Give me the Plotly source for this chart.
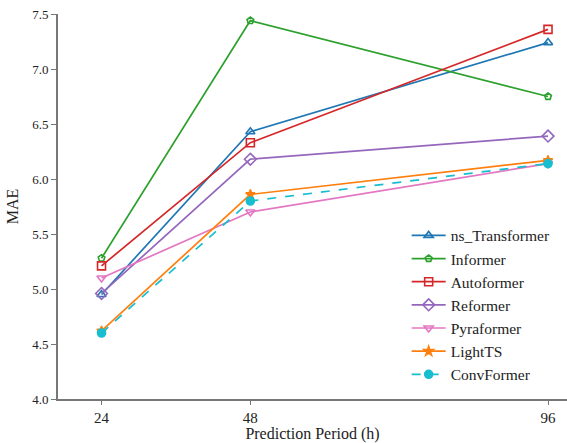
import plotly.graph_objects as go

periods = [24, 48, 96]
ns_transformer = [4.95, 6.43, 7.24]
informer = [5.28, 7.44, 6.75]
autoformer = [5.21, 6.33, 7.36]
reformer = [4.96, 6.18, 6.39]
pyraformer = [5.10, 5.70, 6.14]
lightts = [4.62, 5.86, 6.17]
convformer = [4.60, 5.80, 6.14]

series = [
    ("ns_Transformer", ns_transformer, "#1f77b4", "triangle-up-open", 8, "solid"),
    ("Informer", informer, "#2ca02c", "pentagon-open", 7, "solid"),
    ("Autoformer", autoformer, "#d62728", "square-open", 8, "solid"),
    ("Reformer", reformer, "#9467bd", "diamond-open", 9, "solid"),
    ("Pyraformer", pyraformer, "#e377c2", "triangle-down-open", 8, "solid"),
    ("LightTS", lightts, "#ff7f0e", "star", 7, "solid"),
    ("ConvFormer", convformer, "#17becf", "circle", 8, "dash"),
]

fig = go.Figure()
for name, vals, color, sym, size, dash in series:
    fig.add_trace(go.Scatter(
        x=periods, y=vals, name=name, mode="lines+markers",
        line=dict(color=color, width=1.7, dash=dash),
        marker=dict(symbol=sym, size=size, color=color,
                    line=dict(color=color, width=1.6)),
    ))

font = "'Times New Roman', Times, 'Liberation Serif', 'DejaVu Serif', serif"
fig.update_layout(
    width=567, height=443,
    margin=dict(l=58, r=0, t=14, b=44),
    paper_bgcolor="white", plot_bgcolor="white",
    font=dict(family=font, size=13, color="#222"),
    showlegend=True,
    legend=dict(x=0.685, y=0.468, xanchor="left", yanchor="top",
                font=dict(family=font, size=15.5, color="#222"),
                bgcolor="rgba(255,255,255,0)", tracegroupgap=0,
                itemwidth=34),
    xaxis=dict(range=[16.98, 99.06], tickvals=periods, ticktext=[str(p) for p in periods],
               showgrid=False, zeroline=False, showline=True, linecolor="#777",
               linewidth=2, ticks="outside", ticklen=4, tickcolor="#777",
               tickfont=dict(family=font, size=15),
               title=dict(text="Prediction Period (h)", font=dict(family=font, size=16), standoff=2)),
    yaxis=dict(range=[4.0, 7.5], tickvals=[4.0, 4.5, 5.0, 5.5, 6.0, 6.5, 7.0, 7.5],
               ticktext=["4.0", "4.5", "5.0", "5.5", "6.0", "6.5", "7.0", "7.5"],
               showgrid=False, zeroline=False, showline=True, linecolor="#777",
               linewidth=2, ticks="outside", ticklen=5, tickcolor="#777",
               tickfont=dict(family=font, size=13),
               title=dict(text="MAE", font=dict(family=font, size=16), standoff=10)),
)

fig.write_html("out.html")
